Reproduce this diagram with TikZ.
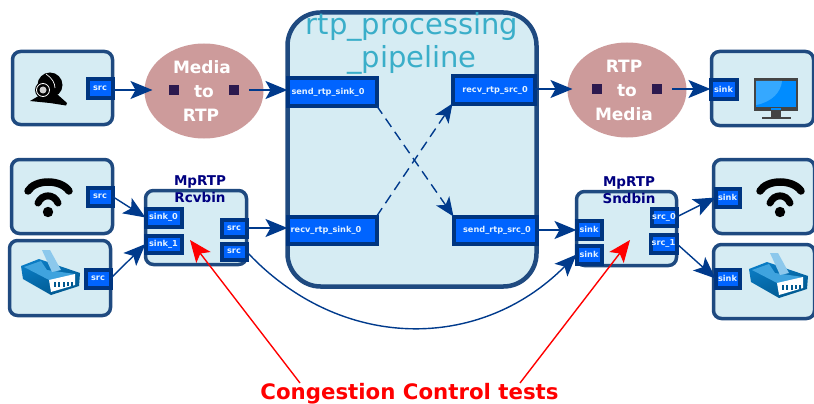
\documentclass[tikz,border=0pt]{standalone}
\usepackage{fontspec}
\setmainfont{DejaVu Sans}
\usetikzlibrary{arrows.meta,shapes.geometric}
\definecolor{boxfill}{HTML}{D6ECF3}
\definecolor{boxline}{HTML}{1F4A80}
\definecolor{padfill}{HTML}{0064FF}
\definecolor{padline}{HTML}{003580}
\definecolor{connc}{HTML}{003A8C}
\definecolor{elfill}{HTML}{CD9B9B}
\definecolor{sqc}{HTML}{2D1A4F}
\definecolor{titlec}{HTML}{3AAEC9}
\definecolor{padtext}{HTML}{E4F2FF}
\definecolor{navytext}{HTML}{000080}
\definecolor{rbody}{HTML}{0A7CC4}
\definecolor{rdark}{HTML}{00588F}
\definecolor{rtop}{HTML}{3FA3DE}
\definecolor{rbar}{HTML}{8CC8EC}
\definecolor{screenc}{HTML}{008CFF}
\definecolor{screenl}{HTML}{35A8FF}
\definecolor{bezel}{HTML}{444444}
\tikzset{
  panel/.style={rectangle,draw=boxline,fill=boxfill,line width=3.5pt,rounded corners=8pt,inner sep=0pt,outer sep=0pt},
  padbox/.style={rectangle,draw=padline,fill=padfill,line width=4pt,inner sep=0pt,outer sep=0pt,text=padtext,font=\fontsize{8.2}{10}\selectfont\bfseries},
  convert/.style={ellipse,fill=elfill,minimum width=119pt,minimum height=95pt,inner sep=0pt,outer sep=0pt,text=white,align=center,font=\fontsize{17}{24}\selectfont\bfseries},
  portdot/.style={rectangle,fill=sqc,minimum size=10pt,inner sep=0pt,outer sep=0pt},
  binlabel/.style={text=navytext,align=center,inner sep=0pt,font=\fontsize{13.5}{17.5}\selectfont\bfseries},
  conn/.style={draw=connc,line width=1.4pt,-{Stealth[length=22pt,width=18pt,inset=5pt]}},
  dashconn/.style={draw=connc,line width=1.4pt,dash pattern=on 10pt off 6pt,-{Stealth[length=19pt,width=16pt,inset=5pt]}},
  redconn/.style={draw=red,line width=1.4pt,-{Stealth[length=22pt,width=18pt,inset=5pt]}},
}
\newcommand{\rectnode}[7]{% style, name, x0,y0,x1,y1, text
  \pgfmathsetmacro{\cxv}{(#3+#5)/2}\pgfmathsetmacro{\cyv}{(#4+#6)/2}
  \pgfmathsetmacro{\wv}{#5-#3-3}\pgfmathsetmacro{\hv}{#6-#4-3}
  \node[#1,minimum width=\wv pt,minimum height=\hv pt] (#2) at (\cxv,\cyv) {#7};}
\newcommand{\wifiicon}[2]{\begin{scope}[shift={(#1,#2)}]
  \draw[black,line width=7.5pt,line cap=round] (-20,-21) .. controls (-13,-33) and (13,-33) .. (21,-21);
  \draw[black,line width=7pt,line cap=round] (-10,-9) .. controls (-6,-18.5) and (6,-18.5) .. (10,-9);
  \fill[black] (0,0) circle (5.2pt);
\end{scope}}
\newcommand{\routericon}[2]{\begin{scope}[shift={(#1,#2)}]
  \shade[left color=rbody,right color=rdark,shading angle=20]
    (6,21) -- (24,14) -- (65,28) -- (64,41) -- (36,50) -- (8,34) -- cycle;
  \fill[rtop] (9,22) -- (26,16) -- (32,25) -- (60,29) -- (36,36) -- cycle;
  \fill[rbar] (27,5) -- (35,5) -- (46,25) -- (37,27) -- cycle;
  \fill[white] (34,35) -- (60,29) -- (60,40) -- (36,47) -- cycle;
  \foreach \b in {38.5,43,47.5,52,56}{\fill[rdark] (\b,36.5) rectangle (\b+2,44-\b/20);}
\end{scope}}
\begin{document}
\begin{tikzpicture}[x=1pt,y=-1pt]
\useasboundingbox (0,0) rectangle (814,404);
% panels
\rectnode{panel}{camera}{11}{50}{114}{126}{}
\rectnode{panel}{wifiA}{10}{158}{114}{235}{}
\rectnode{panel}{routerA}{8}{239}{112}{317}{}
\rectnode{panel}{rcvbin}{144}{189}{248}{266}{}
\rectnode{panel,rounded corners=33pt,line width=4.5pt}{pipeline}{286}{11}{538}{288}{}
\rectnode{panel}{sndbin}{575}{190}{678}{267}{}
\rectnode{panel}{display}{710}{50}{815}{127}{}
\rectnode{panel}{wifiB}{712}{158}{816}{235}{}
\rectnode{panel}{routerB}{712}{243}{816}{320}{}
% icons
\begin{scope}
  \fill[black] (30,101) -- (42,94) -- (58,95) -- (67,103) -- (66,105.5) -- (50,103) -- cycle;
  \fill[black] (50,85) circle (12.5pt);
  \draw[white,line width=0.7pt] (46,74) .. controls (52,78) and (55,83) .. (55,88);
  \fill[black] (43,90) circle (8pt);
  \draw[white,line width=0.8pt] (43,90) circle (6.5pt);
  \fill[white!80!black] (43,90) circle (3.5pt);
\end{scope}
\wifiicon{48}{212}
\wifiicon{780}{212}
\routericon{15}{245}
\routericon{743}{248}
\begin{scope}
  \fill[bezel] (771,110) rectangle (781,117);
  \fill[bezel] (762,116.5) rectangle (791,119);
  \fill[bezel] (754,78) rectangle (798,111);
  \fill[screenc] (756,81) rectangle (796,107);
  \fill[screenl] (756,81) -- (782,81) .. controls (781,92) and (772,102) .. (756,105) -- cycle;
  \fill[screenc] (771,108) rectangle (781,110);
\end{scope}
% pads
\rectnode{padbox}{camsrc}{86}{78}{114}{99}{src}
\rectnode{padbox}{wifisrc}{86}{186}{114}{207}{src}
\rectnode{padbox}{routersrc}{84}{268}{112}{289}{src}
\rectnode{padbox}{sinkzero}{144}{207}{183}{228}{sink\_0}
\rectnode{padbox}{sinkone}{144}{234}{183}{254}{sink\_1}
\rectnode{padbox}{rcvsrcA}{220}{218}{248}{238}{src}
\rectnode{padbox}{rcvsrcB}{220}{242}{248}{261}{src}
\rectnode{padbox}{sendsink}{286}{77}{378}{107}{\kern-4pt send\_rtp\_sink\_0\kern4pt}
\rectnode{padbox}{recvsrc}{451}{75}{536}{105}{\kern1.5pt recv\_rtp\_src\_0\kern-1.5pt}
\rectnode{padbox}{recvsink}{286}{215}{378}{245}{\kern-6pt recv\_rtp\_sink\_0\kern6pt}
\rectnode{padbox}{sendsrc}{452}{215}{538}{245}{\kern2pt send\_rtp\_src\_0\kern-2pt}
\rectnode{padbox}{sndsinkA}{575}{219}{603}{240}{sink}
\rectnode{padbox}{sndsinkB}{575}{244}{603}{265}{sink}
\rectnode{padbox}{sndsrcA}{650}{207}{678}{227}{src\_0}
\rectnode{padbox}{sndsrcB}{649}{233}{678}{254}{src\_1}
\rectnode{padbox}{dispsink}{709}{79}{738}{100}{sink}
\rectnode{padbox}{wifisink}{714}{187}{741}{208}{sink}
\rectnode{padbox}{routersink}{714}{268}{741}{289}{sink}
% converters
\node[convert] (mediartp) at (204,91) {\kern-2pt Media\kern2pt\\to\\\kern-3pt RTP\kern3pt};
\node[convert] (rtpmedia) at (627,90) {\kern-3pt RTP\kern3pt\\to\\\kern-3pt Media\kern3pt};
\node[portdot] (mrin) at (173.5,90) {};
\node[portdot] (mrout) at (234,90) {};
\node[portdot] (rmin) at (596.5,89) {};
\node[portdot] (rmout) at (657,89) {};
% labels
\node[binlabel] (rcvlabel) at (200,189) {MpRTP\\Rcvbin};
\node[binlabel] (sndlabel) at (629,190) {MpRTP\\Sndbin};
\node[text=titlec,align=center,inner sep=0pt,font=\fontsize{29}{33}\selectfont] (title) at (412,43) {rtp\_processing\\\_pipeline};
\node[text=red,inner sep=0pt,font=\fontsize{21.3}{26}\selectfont\bfseries] (cc) at (409.5,394) {Congestion Control tests};
\coordinate (ccleft) at (300,383);
\coordinate (ccright) at (520,383);
\coordinate (rcvtarget) at (190,240);
\coordinate (sndtarget) at (630,240);
% connectors
\draw[conn,shorten >=16pt] (camsrc.east |- mrin.west) -- (mrin.west);
\draw[conn,shorten <=10pt] (mrout.east) -- (mrout.east -| sendsink.west);
\draw[conn,shorten >=19pt] (recvsrc.east |- rmin.west) -- (rmin.west);
\draw[conn,shorten <=10pt] (rmout.east) -- (rmout.east -| dispsink.west);
\draw[conn] (wifisrc.east) -- (sinkzero.west);
\draw[conn] (routersrc.east) -- (sinkone.west);
\draw[conn] (rcvsrcA.east) -- (rcvsrcA.east -| recvsink.west);
\draw[conn] (sendsrc.east) -- (sendsrc.east -| sndsinkA.west);
\draw[conn] (sndsrcA.east) -- (wifisink.west);
\draw[conn] (sndsrcB.east) -- (routersink.west);
\draw[conn] (rcvsrcB.east) .. controls (340,352) and (480,352) .. (sndsinkB.west);
\draw[dashconn] (sendsink.south east) -- (sendsrc.north west);
\draw[dashconn] (recvsink.north east) -- (recvsrc.south west);
\draw[redconn] (ccleft) -- (rcvtarget);
\draw[redconn] (ccright) -- (sndtarget);
\end{tikzpicture}
\end{document}
